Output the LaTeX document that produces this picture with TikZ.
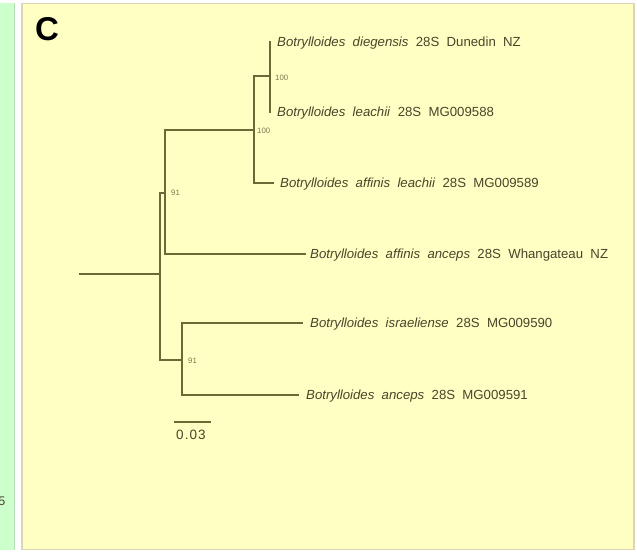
\documentclass[tikz,border=0pt]{standalone}
\usepackage{fontspec}
\setmainfont{Liberation Sans}
\newfontfamily\labfont[WordSpace=2.0]{Liberation Sans}
\newfontfamily\barfont[LetterSpace=8]{Liberation Sans}
\definecolor{panelbg}{HTML}{FFFFC4}
\definecolor{panelborder}{HTML}{DDD6B4}
\definecolor{stripbg}{HTML}{CCFFCC}
\definecolor{stripborder}{HTML}{B8DDB8}
\definecolor{treeline}{HTML}{6B6935}
\definecolor{treetext}{HTML}{47462A}
\definecolor{boottext}{HTML}{7A7850}
\tikzset{
  branch/.style={draw=treeline, line width=2pt, line cap=rect},
  leaflab/.style={anchor=west, inner sep=0pt, text=treetext, font=\labfont\fontsize{13.2}{15}\selectfont},
  boot/.style={anchor=west, inner sep=0pt, text=boottext, font=\fontsize{7.8}{9}\selectfont},
}
\begin{document}
\begin{tikzpicture}[x=1pt,y=-1pt]
\useasboundingbox (0,0) rectangle (637,552);
\clip (0,0) rectangle (637,552);
\fill[white] (0,0) rectangle (637,552);
% left strip
\fill[stripbg] (-2,3) rectangle (14.5,550);
\draw[stripborder, line width=1pt] (14.5,3) -- (14.5,550);
\node[anchor=base east, inner sep=0pt, text=treetext, font=\fontsize{12.5}{14}\selectfont] (five) at (5.5,505.5) {5};
% panel
\filldraw[fill=panelbg, draw=panelborder, line width=1.2pt] (22,3.5) rectangle (634,549.5);
\node[anchor=base west, inner sep=0pt, font=\fontsize{33}{35}\selectfont\bfseries] (lblC) at (35,40) {C};
% tree coordinates
\coordinate (root0) at (80,274);
\coordinate (r) at (160,274);
\coordinate (rTop) at (160,193);
\coordinate (rBot) at (160,360);
\coordinate (n91a) at (165,193);
\coordinate (n91aTop) at (165,130);
\coordinate (n91aBot) at (165,254);
\coordinate (n100b) at (254,130);
\coordinate (n100bTop) at (254,76);
\coordinate (n100bBot) at (254,183);
\coordinate (n100a) at (270,76);
\coordinate (n100aTop) at (270,42);
\coordinate (n100aBot) at (270,112);
\coordinate (n91b) at (182,360);
\coordinate (n91bTop) at (182,323);
\coordinate (n91bBot) at (182,395);
\coordinate (e3) at (273,183);
\coordinate (e4) at (305,254);
\coordinate (e5) at (302,323);
\coordinate (e6) at (298,395);
% leaf labels
\node[leaflab] (t1) at (277,43) {\textit{Botrylloides} \textit{diegensis} 28S Dunedin NZ};
\node[leaflab] (t2) at (277,113) {\textit{Botrylloides} \textit{leachii} 28S MG009588};
\node[leaflab] (t3) at (280,184) {\textit{Botrylloides} \textit{affinis} \textit{leachii} 28S MG009589};
\node[leaflab] (t4) at (310,255) {\textit{Botrylloides} \textit{affinis} \textit{anceps} 28S Whangateau NZ};
\node[leaflab] (t5) at (310,324) {\textit{Botrylloides} \textit{israeliense} 28S MG009590};
\node[leaflab] (t6) at (306,396) {\textit{Botrylloides} \textit{anceps} 28S MG009591};
% branches
\draw[branch] (root0) -- (r);
\draw[branch] (rTop) -- (rBot);
\draw[branch] (rTop) -- (n91a);
\draw[branch] (n91aTop) -- (n91aBot);
\draw[branch] (n91aTop) -- (n100b);
\draw[branch] (n100bTop) -- (n100bBot);
\draw[branch] (n100bTop) -- (n100a);
\draw[branch] (n100aTop) -- (n100aBot);
\draw[branch] (n100bBot) -- (e3);
\draw[branch] (n91aBot) -- (e4);
\draw[branch] (rBot) -- (n91b);
\draw[branch] (n91bTop) -- (n91bBot);
\draw[branch] (n91bTop) -- (e5);
\draw[branch] (n91bBot) -- (e6);
% bootstrap values
\node[boot] (b1) at (275,78) {100};
\node[boot] (b2) at (257,131) {100};
\node[boot] (b3) at (171,193) {91};
\node[boot] (b4) at (188,361) {91};
% scale bar
\coordinate (sbL) at (174,422);
\coordinate (sbR) at (211,422);
\draw[branch, line cap=butt] (sbL) -- (sbR);
\node[anchor=center, inner sep=0pt, text=treetext, font=\barfont\fontsize{13.5}{15}\selectfont] (sblab) at (191,435) {0.03};
\end{tikzpicture}
\end{document}
